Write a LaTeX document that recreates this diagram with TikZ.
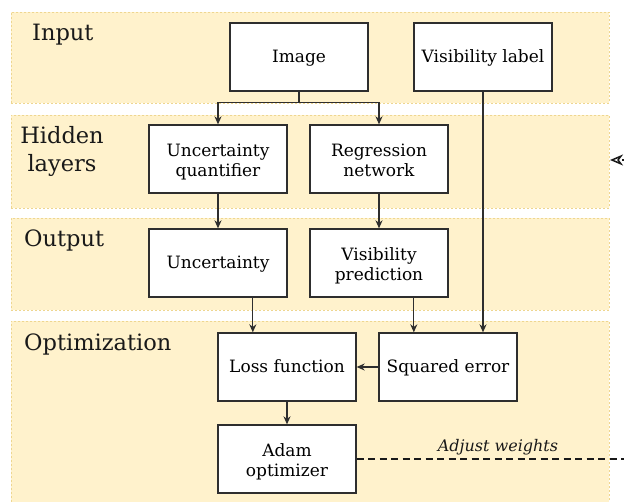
\documentclass[tikz,border=0pt]{standalone}
\usepackage{fontspec}
\setmainfont{DejaVu Serif}
\usetikzlibrary{arrows.meta,calc}
\definecolor{bandfill}{HTML}{FFF2CC}
\definecolor{bandline}{HTML}{EED690}
\definecolor{ink}{HTML}{2E2E2E}
\begin{document}
\begin{tikzpicture}[x=1pt,y=-1pt,
  band/.style={draw=bandline, fill=bandfill, dash pattern=on 2pt off 2pt, line width=0.8pt, anchor=north west, inner sep=0pt},
  box/.style={draw=ink, fill=white, line width=1.3pt, minimum width=138pt, minimum height=68pt, inner sep=0pt, align=center, font=\fontsize{17}{20}\selectfont, text height=15pt, text depth=4pt},
  boxtwo/.style={box, text height=39pt},
  lane/.style={font=\fontsize{22.5}{28}\selectfont, inner sep=0pt, align=center, text=black!90},
  arr/.style={draw=ink, line width=1.2pt, -{Stealth[length=8pt,width=7pt,inset=2.5pt]}},
  fb/.style={draw=black!90, line width=1.8pt, dash pattern=on 7pt off 4.5pt},
]
\clip (0,0) rectangle (624,502);
\useasboundingbox (0,0) rectangle (624,502);
\fill[white] (0,0) rectangle (624,502);

% bands
\node[band, minimum width=598pt, minimum height=91pt] (bin) at (11,12) {};
\node[band, minimum width=598pt, minimum height=93pt] (bhid) at (11,115) {};
\node[band, minimum width=598pt, minimum height=92pt] (bout) at (11,218) {};
\node[band, minimum width=598pt, minimum height=181pt] (bopt) at (11,321) {};

% lane labels
\node[lane, anchor=base west] (lin) at (32,41) {Input};
\node[lane, anchor=center] (lhid) at (62,151) {Hidden\\layers};
\node[lane, anchor=base west] (lout) at (24,247) {Output};
\node[lane, anchor=base west] (lopt) at (24,351) {Optimization};

% boxes
\node[box] (image) at (299,57) {Image};
\node[box] (vislabel) at (483,57) {Visibility label};
\node[boxtwo] (uq) at (218,159) {Uncertainty\\quantifier};
\node[boxtwo] (rn) at (379,159) {Regression\\network};
\node[box] (unc) at (218,263) {Uncertainty};
\node[boxtwo] (vp) at (379,263) {Visibility\\prediction};
\node[box] (loss) at (287,367) {Loss function};
\node[box] (sq) at (448,367) {Squared error};
\node[boxtwo] (adam) at (287,459) {Adam\\optimizer};

% connectors
\draw[arr] (image.south) -- ++(0,11) -| (uq.north);
\draw[arr] (image.south) -- ++(0,11) -| (rn.north);
\draw[arr] (uq.south) -- (unc.north);
\draw[arr] (rn.south) -- (vp.north);
\coordinate (u1) at ($(unc.south)!0.5!(unc.south east)$);
\draw[arr] (u1) -- (u1 |- loss.north);
\coordinate (v1) at ($(vp.south)!0.5!(vp.south east)$);
\draw[arr] (v1) -- (v1 |- sq.north);
\draw[arr] (vislabel.south) -- (vislabel.south |- sq.north);
\draw[arr] (sq.west) -- (loss.east);
\draw[arr] (loss.south) -- (adam.north);

% feedback (leaves the picture on the right)
\coordinate (awend) at (640,459);
\draw[fb] (adam.east) -- (awend);
\node[font=\itshape\fontsize{16}{19}\selectfont, anchor=base, text=black!90] (awl) at (498,451) {Adjust weights};
\coordinate (fbstart) at (640,160);
\coordinate (fbtip) at (610,160);
\draw[fb, -{Stealth[open,length=13pt,width=11pt,inset=4pt,line width=1.5pt]}] (fbstart) -- (fbtip);
\end{tikzpicture}
\end{document}
